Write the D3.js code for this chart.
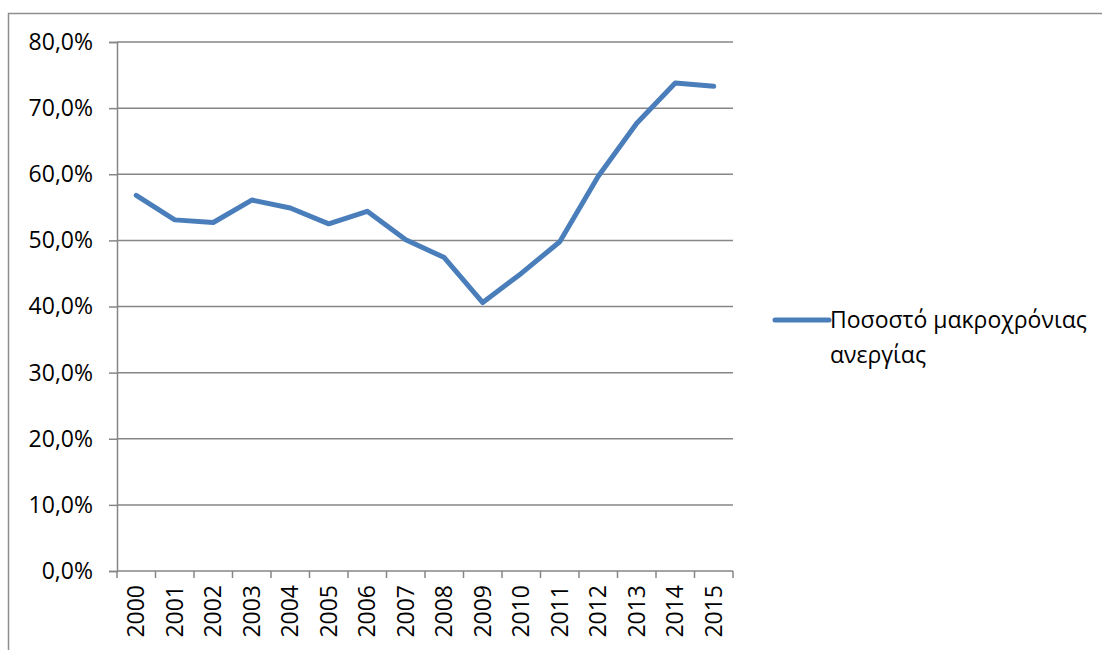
<!DOCTYPE html>
<html>
<head>
<meta charset="utf-8">
<script src="https://cdn.jsdelivr.net/npm/d3@7"></script>
<style>
  body { margin: 0; background: #fff; }
  text { font-family: "Open Sans", sans-serif; fill: #000; }
</style>
</head>
<body>
<div id="chart"></div>
<script>
var years = ["2000","2001","2002","2003","2004","2005","2006","2007",
             "2008","2009","2010","2011","2012","2013","2014","2015"];
var rates = [56.8, 53.1, 52.7, 56.1, 54.9, 52.5, 54.4, 50.1,
             47.4, 40.6, 45.0, 49.8, 59.7, 67.7, 73.8, 73.3];
var yTicks = [0, 10, 20, 30, 40, 50, 60, 70, 80];
var seriesName = ["Ποσοστό μακροχρόνιας", "ανεργίας"];

var W = 1102, H = 650;
var margin = {top: 42, left: 117},
    width = 733 - 117,
    height = 571 - 42;
var fs = "23px";

var svg = d3.select("#chart")
  .append("svg")
    .attr("width", W)
    .attr("height", H);

// outer chart border (cropped on right and bottom)
svg.append("path")
  .attr("d", "M8.5," + H + "V13.5H" + W)
  .attr("fill", "none")
  .attr("stroke", "#8e8e8e")
  .attr("stroke-width", 1.5);

var g = svg.append("g")
  .attr("transform", "translate(" + margin.left + "," + margin.top + ")");

var x = d3.scaleBand()
  .domain(years)
  .range([0, width]);

var y = d3.scaleLinear()
  .domain([0, 80])
  .range([height, 0]);

// gridlines
g.selectAll(".grid")
  .data(yTicks.slice(1))
  .enter()
  .append("line")
    .attr("x1", 0)
    .attr("x2", width)
    .attr("y1", function(d) { return y(d); })
    .attr("y2", function(d) { return y(d); })
    .attr("stroke", "#868686")
    .attr("stroke-width", 1.5);

// Y axis
var yAxis = g.append("g")
  .call(d3.axisLeft(y)
    .tickValues(yTicks)
    .tickSize(8)
    .tickPadding(16)
    .tickFormat(function(d) { return d.toFixed(1).replace(".", ",") + "%"; }));
yAxis.selectAll("line").attr("stroke", "#868686").attr("stroke-width", 1.5);
yAxis.select(".domain").attr("stroke", "#868686").attr("stroke-width", 1.5);
yAxis.selectAll("text").style("font-size", fs).style("font-family", "Open Sans");

// X axis with ticks between categories
var xAxis = g.append("g")
  .attr("transform", "translate(0," + height + ")");
xAxis.append("line")
  .attr("x1", 0).attr("x2", width)
  .attr("stroke", "#868686").attr("stroke-width", 1.5);
xAxis.selectAll(".tk")
  .data(years.concat(["end"]))
  .enter()
  .append("line")
    .attr("x1", function(d, i) { return i < years.length ? x(d) : width; })
    .attr("x2", function(d, i) { return i < years.length ? x(d) : width; })
    .attr("y1", 0)
    .attr("y2", 7)
    .attr("stroke", "#868686")
    .attr("stroke-width", 1.5);
xAxis.selectAll(".lbl")
  .data(years)
  .enter()
  .append("text")
    .attr("transform", function(d) {
      return "translate(" + (x(d) + x.bandwidth() / 2) + ",14)rotate(-90)";
    })
    .attr("text-anchor", "end")
    .attr("dy", "0.35em")
    .style("font-size", fs)
    .text(function(d) { return d; });

// line
var line = d3.line()
  .x(function(d, i) { return x(years[i]) + x.bandwidth() / 2; })
  .y(function(d) { return y(d); });

g.append("path")
  .datum(rates)
  .attr("d", line)
  .attr("fill", "none")
  .attr("stroke", "#4a7ebb")
  .attr("stroke-width", 5)
  .attr("stroke-linejoin", "round")
  .attr("stroke-linecap", "round");

// legend
var leg = svg.append("g").attr("transform", "translate(775,320)");
leg.append("line")
  .attr("x1", 0).attr("x2", 54)
  .attr("stroke", "#4a7ebb")
  .attr("stroke-width", 5)
  .attr("stroke-linecap", "round");
leg.selectAll("text")
  .data(seriesName)
  .enter()
  .append("text")
    .attr("x", 55)
    .attr("y", function(d, i) { return i * 35; })
    .attr("dy", "0.35em")
    .style("font-size", fs)
    .text(function(d) { return d; });
</script>
</body>
</html>
